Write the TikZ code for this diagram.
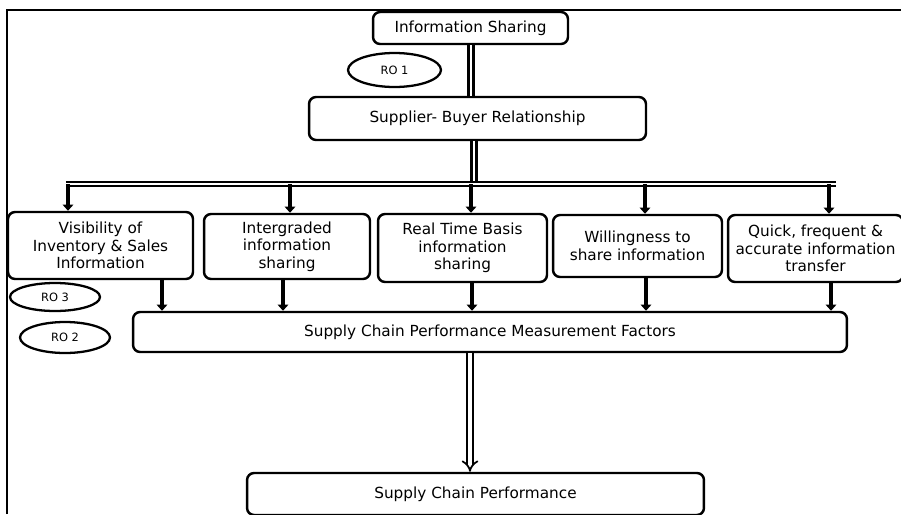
\documentclass[tikz,border=0pt]{standalone}
\usepackage{fontspec}
\setmainfont{DejaVu Sans}
\usetikzlibrary{arrows.meta, shapes.geometric}

\begin{document}
\begin{tikzpicture}[
  x=0.02cm, y=-0.02cm,
  font=\fontsize{8.7}{10}\selectfont,
  box/.style={draw=black, line width=1.4pt, rounded corners=4pt, align=center, inner sep=1pt},
  ro/.style={draw=black, line width=1.3pt, ellipse, inner sep=0pt, font=\fontsize{6.5}{8}\selectfont},
  ar/.style={-{Triangle[length=3.5pt, width=6pt]}, line width=2.6pt},
  dbl/.style={double, double distance=1.2pt, line width=1.5pt},
  dblar/.style={double, double distance=2.2pt, line width=1pt, -{Implies}},
]
\useasboundingbox (0,0) rectangle (901,514);
\draw[line width=1.3pt] (7,514) -- (7,10) -- (901,10);

\node[box, minimum width=3.9cm,  minimum height=0.64cm] (share) at (470.5,28)  {Information Sharing};
\node[ro,  minimum width=1.86cm, minimum height=0.68cm] (ro1)   at (394.5,70)  {RO 1};
\node[box, minimum width=6.74cm, minimum height=0.86cm] (sbr)   at (477.5,118.5) {Supplier- Buyer Relationship};

\node[box, minimum width=3.7cm,  minimum height=1.34cm] (vis)   at (100.5,245.5) {Visibility of\\Inventory \& Sales\\Information};
\node[box, minimum width=3.32cm, minimum height=1.3cm]  (integ) at (287,246.5)   {Intergraded\\information\\sharing};
\node[box, minimum width=3.38cm, minimum height=1.36cm] (real)  at (462.5,248)   {Real Time Basis\\information\\sharing};
\node[box, minimum width=3.38cm, minimum height=1.24cm] (will)  at (637.5,246)   {Willingness to\\share information};
\node[box, minimum width=3.5cm,  minimum height=1.34cm] (quick) at (815.5,248.5) {Quick, frequent \&\\accurate information\\transfer};

\node[ro, minimum width=1.8cm, minimum height=0.56cm] (ro3) at (55,297)   {RO 3};
\node[ro, minimum width=1.8cm, minimum height=0.62cm] (ro2) at (65,337.5) {RO 2};

\node[box, minimum width=14.28cm, minimum height=0.8cm]  (pmf) at (490,332)   {Supply Chain Performance Measurement Factors};
\node[box, minimum width=9.14cm,  minimum height=0.84cm] (scp) at (475.5,494) {Supply Chain Performance};

% distribution bar
\coordinate (barl) at (66,184);
\coordinate (barr) at (836,184);

\draw[dbl] (share.south -| 471,0) -- (sbr.north -| 471,0);
\draw[dbl] (sbr.south -| 474,0) -- (barl -| 474,0);
\draw[dbl, line width=1.2pt, double distance=0.9pt] (barl) -- (barr);

\draw[ar] (barl -| 68,0)  -- (vis.north -| 68,0);
\draw[ar] (barl -| 290,0) -- (integ.north -| 290,0);
\draw[ar] (barl -| 471,0) -- (real.north -| 471,0);
\draw[ar] (barl -| 645,0) -- (will.north -| 645,0);
\draw[ar] (barl -| 829,0) -- (quick.north -| 829,0);

\draw[ar] (vis.south -| 162,0)   -- (pmf.north -| 162,0);
\draw[ar] (integ.south -| 283,0) -- (pmf.north -| 283,0);
\draw[ar] (real.south -| 472,0)  -- (pmf.north -| 472,0);
\draw[ar] (will.south -| 646,0)  -- (pmf.north -| 646,0);
\draw[ar] (quick.south -| 831,0) -- (pmf.north -| 831,0);

\draw[dblar] (pmf.south -| 470,0) -- (scp.north -| 470,0);
\end{tikzpicture}
\end{document}
